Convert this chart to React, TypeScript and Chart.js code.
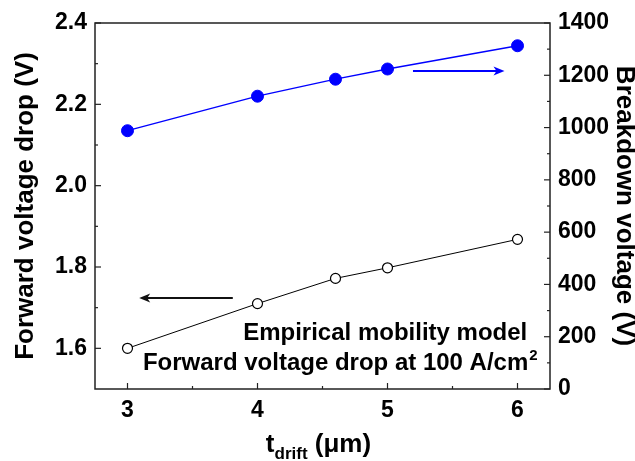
import React, { useEffect, useRef } from 'react';
import { Chart, registerables } from 'chart.js';

Chart.register(...registerables);

// ---- data ----
const thickness = [3, 4, 4.6, 5, 6];
const forwardDrop = [1.6, 1.71, 1.772, 1.798, 1.868];
const breakdown = [988, 1120, 1185, 1224, 1313];

// ---- ticks ----
const xTicks = [3, 4, 5, 6];
const xMinor = [3.5, 4.5, 5.5];
const leftTicks = [1.6, 1.8, 2.0, 2.2, 2.4];
const leftMinor = [1.7, 1.9, 2.1, 2.3];
const rightTicks = [0, 200, 400, 600, 800, 1000, 1200, 1400];
const rightMinor = [100, 300, 500, 700, 900, 1100, 1300];

// ---- annotations (data units) ----
const noteLine1 = 'Empirical mobility model';
const noteLine2 = 'Forward voltage drop at 100 A/cm';
const noteSup = '2';
const note1Anchor = [6.075, 1.62];
const note2Anchor = [6.155, 1.547];
const blackArrow = [3.81, 3.09, 1.724];
const blueArrow = [5.196, 5.9, 1216];

const FONT = '"Liberation Sans", Arial, Helvetica, sans-serif';
const BLUE = '#0000ff';

const decor = {
  id: 'decor',
  afterDatasetsDraw(chart: any) {
    const { ctx, chartArea: a, scales } = chart;
    const sx = scales.x, yl = scales.y, yr = scales.y1;
    ctx.save();
    // frame
    ctx.strokeStyle = '#222';
    ctx.lineWidth = 1.5;
    ctx.strokeRect(a.left, a.top, a.right - a.left, a.bottom - a.top);
    const seg = (x1: number, y1: number, x2: number, y2: number) => {
      ctx.beginPath();
      ctx.moveTo(x1, y1);
      ctx.lineTo(x2, y2);
      ctx.stroke();
    };
    ctx.lineWidth = 1.2;
    xTicks.forEach((v) => { const p = sx.getPixelForValue(v); seg(p, a.bottom, p, a.bottom - 6); });
    xMinor.forEach((v) => { const p = sx.getPixelForValue(v); seg(p, a.bottom, p, a.bottom - 3); });
    leftTicks.forEach((v) => { const p = yl.getPixelForValue(v); seg(a.left, p, a.left + 6, p); });
    leftMinor.forEach((v) => { const p = yl.getPixelForValue(v); seg(a.left, p, a.left + 3, p); });
    rightTicks.forEach((v) => { const p = yr.getPixelForValue(v); seg(a.right, p, a.right - 6, p); });
    rightMinor.forEach((v) => { const p = yr.getPixelForValue(v); seg(a.right, p, a.right - 3, p); });

    // arrows
    const arrow = (x1: number, x2: number, y: number, color: string) => {
      ctx.strokeStyle = color;
      ctx.fillStyle = color;
      ctx.lineWidth = 2;
      const dir = Math.sign(x2 - x1);
      seg(x1, y, x2 - dir * 6, y);
      ctx.beginPath();
      ctx.moveTo(x2, y);
      ctx.lineTo(x2 - dir * 11, y - 4.5);
      ctx.lineTo(x2 - dir * 8, y);
      ctx.lineTo(x2 - dir * 11, y + 4.5);
      ctx.closePath();
      ctx.fill();
    };
    arrow(sx.getPixelForValue(blackArrow[0]), sx.getPixelForValue(blackArrow[1]), yl.getPixelForValue(blackArrow[2]), '#111');
    arrow(sx.getPixelForValue(blueArrow[0]), sx.getPixelForValue(blueArrow[1]), yr.getPixelForValue(blueArrow[2]), BLUE);

    // notes
    ctx.fillStyle = '#000';
    ctx.textBaseline = 'alphabetic';
    ctx.font = `bold 24px ${FONT}`;
    ctx.textAlign = 'right';
    ctx.fillText(noteLine1, sx.getPixelForValue(note1Anchor[0]), yl.getPixelForValue(note1Anchor[1]));
    const r2 = sx.getPixelForValue(note2Anchor[0]);
    const b2 = yl.getPixelForValue(note2Anchor[1]);
    ctx.font = `bold 15px ${FONT}`;
    const ws = ctx.measureText(noteSup).width;
    ctx.textAlign = 'left';
    ctx.fillText(noteSup, r2 - ws, b2 - 10);
    ctx.font = `bold 24px ${FONT}`;
    ctx.textAlign = 'right';
    ctx.fillText(noteLine2, r2 - ws - 1, b2);

    ctx.restore();
  },
  afterDraw(chart: any) {
    const { ctx, chartArea: a } = chart;
    ctx.save();
    ctx.fillStyle = '#000';
    ctx.textBaseline = 'alphabetic';
    ctx.textAlign = 'left';
    const parts: [string, number, number][] = [
      ['t', 26, 0],
      ['drift', 17, 7],
      [' (\u03bcm)', 26, 0],
    ];
    let total = 0;
    parts.forEach(([t, s]) => { ctx.font = `bold ${s}px ${FONT}`; total += ctx.measureText(t).width; });
    let x = (a.left + a.right) / 2 - total / 2 - 4;
    const base = a.bottom + 63;
    parts.forEach(([t, s, dy]) => {
      ctx.font = `bold ${s}px ${FONT}`;
      ctx.fillText(t, x, base + dy);
      x += ctx.measureText(t).width;
    });
    ctx.restore();
  },
};

export default function App() {
  const ref = useRef<HTMLCanvasElement>(null);
  useEffect(() => {
    document.body.style.margin = '0';
    const tickFont = { family: FONT, size: 23, weight: 'bold' as const };
    const chart = new Chart(ref.current!, {
      type: 'line',
      data: {
        datasets: [
          {
            label: 'Forward voltage drop',
            data: thickness.map((x, i) => ({ x, y: forwardDrop[i] })),
            yAxisID: 'y',
            borderColor: '#000',
            borderWidth: 1,
            pointRadius: 5,
            pointBackgroundColor: '#fff',
            pointBorderColor: '#000',
            pointBorderWidth: 1.2,
          },
          {
            label: 'Breakdown voltage',
            data: thickness.map((x, i) => ({ x, y: breakdown[i] })),
            yAxisID: 'y1',
            borderColor: BLUE,
            borderWidth: 1.3,
            pointRadius: 6,
            pointBackgroundColor: BLUE,
            pointBorderColor: BLUE,
            pointBorderWidth: 1,
          },
        ],
      },
      options: {
        animation: false,
        responsive: true,
        maintainAspectRatio: false,
        layout: { padding: { top: 23, left: 0, right: 0, bottom: 0 } },
        plugins: { legend: { display: false }, tooltip: { enabled: false } },
        scales: {
          x: {
            type: 'linear',
            min: 2.75,
            max: 6.25,
            grid: { display: false, drawTicks: false },
            border: { display: false },
            afterBuildTicks: (s: any) => { s.ticks = xTicks.map((value) => ({ value })); },
            ticks: { font: tickFont, color: '#000', padding: 8, callback: (v: any) => String(v) },
            afterFit: (s: any) => { s.height = 72; },
          },
          y: {
            type: 'linear',
            position: 'left',
            min: 1.5,
            max: 2.4,
            grid: { display: false, drawTicks: false },
            border: { display: false },
            afterBuildTicks: (s: any) => { s.ticks = leftTicks.map((value) => ({ value })); },
            ticks: { font: tickFont, color: '#000', padding: 8, callback: (v: any) => Number(v).toFixed(1) },
            title: {
              display: true,
              text: 'Forward voltage drop (V)',
              color: '#000',
              font: { family: FONT, size: 26, weight: 'bold', lineHeight: 1.2 },
              padding: { top: 10, bottom: 0 },
            },
            afterFit: (s: any) => { s.width = 95; },
          },
          y1: {
            type: 'linear',
            position: 'right',
            min: 0,
            max: 1400,
            grid: { display: false, drawTicks: false },
            border: { display: false },
            afterBuildTicks: (s: any) => { s.ticks = rightTicks.map((value) => ({ value })); },
            ticks: { font: tickFont, color: '#000', padding: 8, callback: (v: any) => String(v) },
            title: {
              display: true,
              text: 'Breakdown voltage (V)',
              color: '#000',
              font: { family: FONT, size: 26, weight: 'bold', lineHeight: 0.85 },
              padding: { top: 0, bottom: 0 },
            },
            afterFit: (s: any) => { s.width = 85; },
          },
        },
      },
      plugins: [decor],
    });
    return () => chart.destroy();
  }, []);
  return (
    <div style={{ width: 635, height: 461, position: 'relative' }}>
      <canvas ref={ref} />
    </div>
  );
}
